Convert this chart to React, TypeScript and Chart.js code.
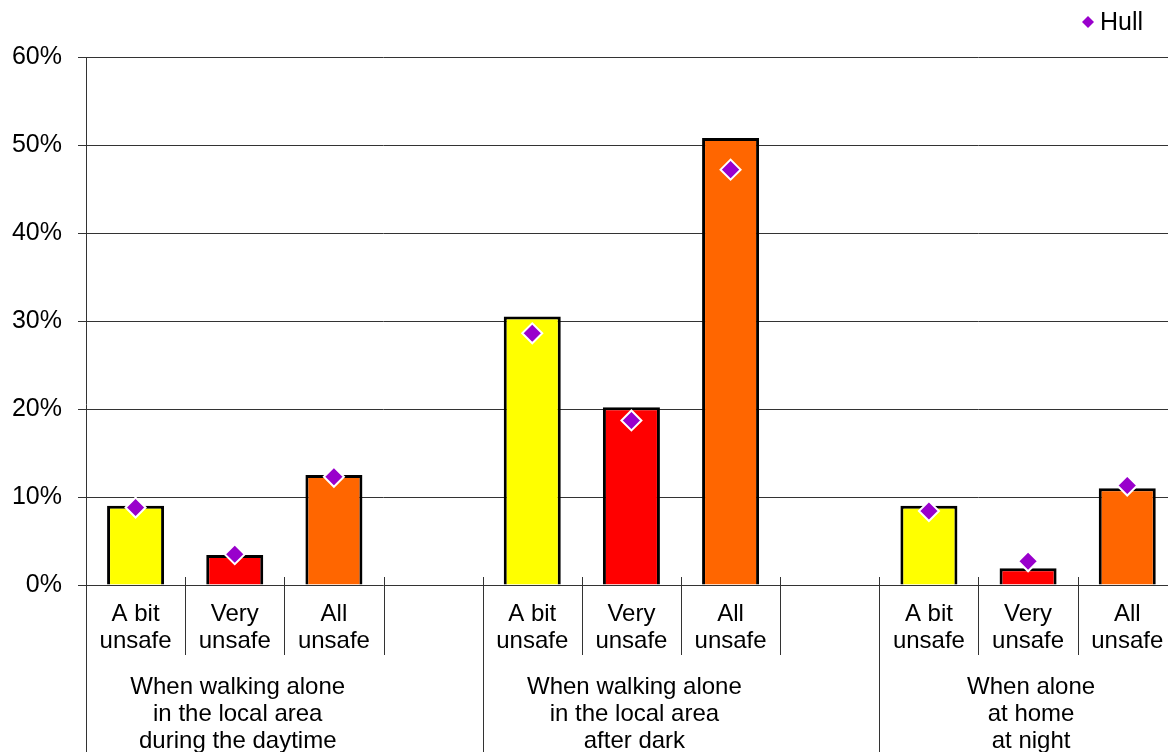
import React, { useEffect, useRef } from "react";
import { Chart, registerables } from "chart.js";

Chart.register(...registerables);

const itemLabels: string[][] = [
  ["A bit", "unsafe"], ["Very", "unsafe"], ["All", "unsafe"], [""],
  ["A bit", "unsafe"], ["Very", "unsafe"], ["All", "unsafe"], [""],
  ["A bit", "unsafe"], ["Very", "unsafe"], ["All", "unsafe"], [""],
];
const groupLabels: string[][] = [
  ["When walking alone", "in the local area", "during the daytime"],
  ["When walking alone", "in the local area", "after dark"],
  ["When alone", "at home", "at night"],
];
const barValues: (number | null)[] = [9.0, 3.4, 12.5, null, 30.5, 20.2, 50.8, null, 9.0, 1.9, 11.0, null];
const hullValues: (number | null)[] = [8.8, 3.5, 12.3, null, 28.6, 18.7, 47.2, null, 8.4, 2.7, 11.3, null];
const barColors: string[] = [
  "#FFFF00", "#FF0000", "#FF6600", "#FFFFFF",
  "#FFFF00", "#FF0000", "#FF6600", "#FFFFFF",
  "#FFFF00", "#FF0000", "#FF6600", "#FFFFFF",
];
const yTicks: number[] = [0, 10, 20, 30, 40, 50, 60];

const FONT = "'Liberation Sans', Arial, sans-serif";
const LINE = "#333333";

const overlayPlugin = {
  id: "overlay",
  afterDraw(chart: any) {
    const ctx = chart.ctx as CanvasRenderingContext2D;
    const xs = chart.scales.x;
    const area = chart.chartArea;
    const slot = xs.getPixelForValue(1) - xs.getPixelForValue(0);
    ctx.save();
    ctx.strokeStyle = LINE;
    ctx.lineWidth = 1;
    // y axis line
    ctx.beginPath();
    ctx.moveTo(Math.round(area.left) + 0.5, area.top);
    ctx.lineTo(Math.round(area.left) + 0.5, chart.height);
    ctx.stroke();
    // separators
    for (let k = 1; k < itemLabels.length; k++) {
      const x = Math.round(xs.getPixelForValue(k) - slot / 2) + 0.5;
      const long = k % 4 === 0;
      ctx.beginPath();
      ctx.moveTo(x, area.bottom - 8);
      ctx.lineTo(x, long ? chart.height : area.bottom + 70);
      ctx.stroke();
    }
    // group labels
    ctx.fillStyle = "#000";
    ctx.font = `24px ${FONT}`;
    ctx.textAlign = "center";
    ctx.textBaseline = "middle";
    groupLabels.forEach((lines, g) => {
      const cx = xs.getPixelForValue(g * 4 + 1) + 3;
      lines.forEach((t, i) => {
        ctx.fillText(t, cx, area.bottom + 102 + i * 27);
      });
    });
    // legend
    const lx = 1088, ly = 22, r = 6;
    ctx.fillStyle = "#9900CC";
    ctx.beginPath();
    ctx.moveTo(lx, ly - r);
    ctx.lineTo(lx + r, ly);
    ctx.lineTo(lx, ly + r);
    ctx.lineTo(lx - r, ly);
    ctx.closePath();
    ctx.fill();
    ctx.fillStyle = "#000";
    ctx.textAlign = "left";
    ctx.font = `25px ${FONT}`;
    ctx.fillText("Hull", 1100, ly + 1);
    ctx.restore();
  },
};

export default function App() {
  const ref = useRef<HTMLCanvasElement | null>(null);
  useEffect(() => {
    if (!ref.current) return;
    const chart = new Chart(ref.current, {
      type: "bar",
      data: {
        labels: itemLabels,
        datasets: [
          {
            type: "line",
            label: "Hull",
            data: hullValues,
            showLine: false,
            pointStyle: "rectRot",
            pointRadius: 10,
            pointBackgroundColor: "#9900CC",
            pointBorderColor: "#FFFFFF",
            pointBorderWidth: 2,
            order: 0,
          } as any,
          {
            type: "bar",
            label: "All",
            data: barValues,
            backgroundColor: barColors,
            borderColor: "#000000",
            borderWidth: 3,
            borderSkipped: "bottom",
            barPercentage: 0.575,
            categoryPercentage: 1,
            order: 1,
          } as any,
        ],
      },
      options: {
        animation: false,
        responsive: true,
        maintainAspectRatio: false,
        layout: { padding: { top: 57, left: 0, right: 0, bottom: 0 } },
        plugins: { legend: { display: false }, tooltip: { enabled: false } },
        scales: {
          x: {
            type: "category",
            offset: true,
            grid: { display: false },
            border: { display: false },
            ticks: {
              autoSkip: false,
              maxRotation: 0,
              minRotation: 0,
              padding: 8,
              color: "#000",
              font: { family: FONT, size: 24, lineHeight: 1.125 },
            },
            afterFit(scale: any) {
              scale.height = 167;
            },
          },
          y: {
            min: 0,
            max: 60,
            afterBuildTicks(scale: any) {
              scale.ticks = yTicks.map((v) => ({ value: v }));
            },
            grid: { color: LINE, lineWidth: 1, tickLength: 8, drawTicks: true },
            border: { display: false },
            ticks: {
              padding: 16,
              color: "#000",
              font: { family: FONT, size: 25 },
              callback: (v: any) => `${v}%`,
            },
            afterFit(scale: any) {
              scale.width = 86;
            },
          },
        },
      },
      plugins: [overlayPlugin],
    });
    return () => chart.destroy();
  }, []);
  return (
    <div style={{ position: "fixed", left: 0, top: 0, width: 1168, height: 752, overflow: "hidden", background: "#fff" }}>
      <div style={{ position: "relative", width: 1288, height: 752 }}>
        <canvas ref={ref} />
      </div>
    </div>
  );
}
